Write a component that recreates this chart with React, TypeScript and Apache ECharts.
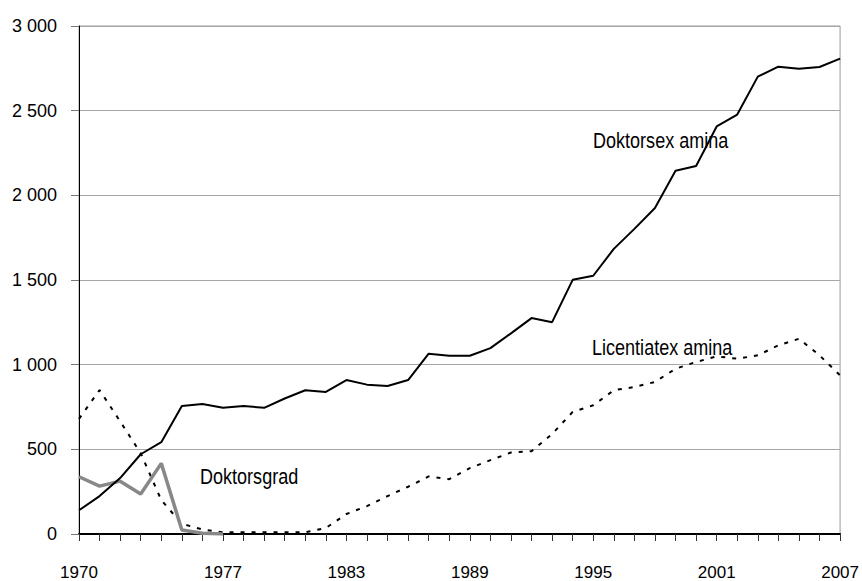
import React, { useEffect, useRef } from "react";
import * as echarts from "echarts";

const YEARS = [
  "1970","1971","1972","1973","1974","1975","1976","1977","1978","1979",
  "1980","1981","1982","1983","1984","1985","1986","1987","1988","1989",
  "1990","1991","1992","1993","1994","1995","1996","1997","1998","1999",
  "2000","2001","2002","2003","2004","2005","2006","2007",
];

const DOKTORSEXAMINA = [
  140, 224, 330, 471, 542, 756, 768, 745, 756, 745, 800, 849, 839,
  909, 882, 874, 909, 1065, 1053, 1053, 1098, 1185, 1275, 1251, 1501, 1525,
  1684, 1802, 1925, 2145, 2173, 2407, 2477, 2701, 2760, 2748, 2758, 2807,
];

const LICENTIATEXAMINA = [
  680, 850, 665, 477, 200, 60, 27, 10, 10, 10, 10, 10, 35,
  118, 165, 224, 279, 340, 324, 389, 436, 481, 489, 590, 721, 760,
  849, 868, 898, 976, 1016, 1049, 1035, 1055, 1114, 1153, 1055, 937,
];

const DOKTORSGRAD: (number | null)[] = [
  338, 283, 312, 236, 417, 24, 5, 0,
  null, null, null, null, null, null, null, null, null, null, null, null,
  null, null, null, null, null, null, null, null, null, null, null, null,
  null, null, null, null, null, null,
];

const X_LABEL_YEARS = ["1970", "1977", "1983", "1989", "1995", "2001", "2007"];

const SERIES_LABELS = ["Doktorsex amina", "Licentiatex amina", "Doktorsgrad"];

const FONT = "'Liberation Sans', Arial, sans-serif";

function fmt(v: number): string {
  const s = String(Math.round(v));
  return s.replace(/\B(?=(\d{3})+(?!\d))/g, " ");
}

export default function App() {
  const ref = useRef<HTMLDivElement>(null);
  useEffect(() => {
    if (!ref.current) return;
    const chart = echarts.init(ref.current, undefined, { renderer: "svg" });
    const labelStyle = (text: string) => ({
      text,
      fill: "#000",
      fontSize: 22,
      fontFamily: FONT,
      verticalAlign: "middle",
      align: "left",
    });
    chart.setOption({
      animation: false,
      backgroundColor: "#ffffff",
      grid: {
        left: 79,
        right: 20,
        top: 26,
        bottom: 47,
        containLabel: false,
        show: true,
        borderColor: "#9a9a9a",
        borderWidth: 1,
      },
      xAxis: {
        type: "category",
        data: YEARS,
        boundaryGap: false,
        axisLine: { show: true, lineStyle: { color: "#000", width: 2 } },
        axisTick: { show: true, interval: 0, length: 7, lineStyle: { color: "#333", width: 1 } },
        axisLabel: {
          interval: (idx: number, val: string) => X_LABEL_YEARS.includes(val),
          margin: 30,
          color: "#000",
          fontSize: 17,
          fontFamily: FONT,
        },
        splitLine: { show: false },
      },
      yAxis: {
        type: "value",
        min: 0,
        max: 3000,
        interval: 500,
        axisLine: { show: true, lineStyle: { color: "#000", width: 1 } },
        axisTick: { show: true, length: 8, lineStyle: { color: "#777", width: 1 } },
        axisLabel: {
          margin: 22,
          color: "#000",
          fontSize: 18,
          fontFamily: FONT,
          formatter: (v: number) => fmt(v),
        },
        splitLine: { show: true, lineStyle: { color: "#a6a6a6", width: 1 } },
      },
      series: [
        {
          name: "Licentiatexamina",
          type: "line",
          data: LICENTIATEXAMINA,
          showSymbol: false,
          symbol: "none",
          lineStyle: { color: "#000", width: 2, type: [4, 7] },
          z: 2,
        },
        {
          name: "Doktorsgrad",
          type: "line",
          data: DOKTORSGRAD,
          showSymbol: false,
          symbol: "none",
          connectNulls: false,
          lineStyle: { color: "#888888", width: 3.5 },
          z: 3,
        },
        {
          name: "Doktorsexamina",
          type: "line",
          data: DOKTORSEXAMINA,
          showSymbol: false,
          symbol: "none",
          lineStyle: { color: "#000", width: 2 },
          z: 4,
        },
      ],
      graphic: [
        { type: "text", x: 593, y: 140, scaleX: 0.82, style: labelStyle(SERIES_LABELS[0]), z: 10 },
        { type: "text", x: 592, y: 347.5, scaleX: 0.82, style: labelStyle(SERIES_LABELS[1]), z: 10 },
        { type: "text", x: 200, y: 476.5, scaleX: 0.82, style: labelStyle(SERIES_LABELS[2]), z: 10 },
      ],
    });
    return () => chart.dispose();
  }, []);
  return <div ref={ref} style={{ width: 862, height: 581, position: "absolute", left: 0, top: 0 }} />;
}
